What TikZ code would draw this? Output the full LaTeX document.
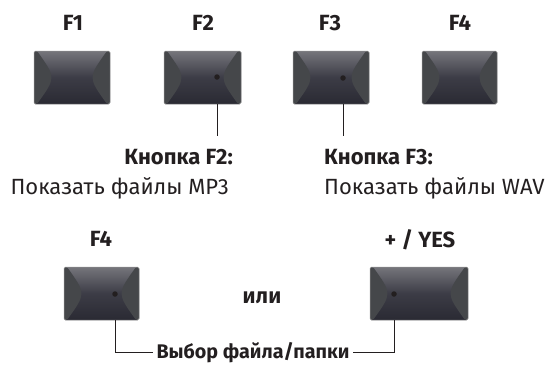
\documentclass[tikz,border=0pt]{standalone}
\usepackage{fontspec}
\setmainfont{Fira Sans}
\usetikzlibrary{calc}
\definecolor{btntop}{HTML}{75757B}
\definecolor{btnmid}{HTML}{3C3C46}
\definecolor{btnbot}{HTML}{2A2A33}
\definecolor{btnside}{HTML}{45474A}
\definecolor{btnedge}{HTML}{8C8C8C}
\definecolor{ink}{HTML}{231F20}
\begin{document}
\begin{tikzpicture}[x=1bp,y=-1bp,
  btn/.style={rectangle, rounded corners=1.5bp, inner sep=0pt, minimum height=53bp,
    top color=btntop, bottom color=btnbot, middle color=btnmid,
    draw=btnedge, line width=0.5bp,
    path picture={
      \fill[btnside] (path picture bounding box.north west) -- ++(3,0)
        .. controls ($(path picture bounding box.west)+(22,0)$) ..
        ($(path picture bounding box.south west)+(3,0)$) -- (path picture bounding box.south west) -- cycle;
      \fill[btnside] (path picture bounding box.north east) -- ++(-3,0)
        .. controls ($(path picture bounding box.east)+(-22,0)$) ..
        ($(path picture bounding box.south east)+(-3,0)$) -- (path picture bounding box.south east) -- cycle;
    }},
  dotn/.style={circle, fill=ink, inner sep=0pt, minimum size=5.5bp},
  conn/.style={draw=ink, line width=0.9bp},
  keylbl/.style={font=\fontsize{22bp}{25bp}\selectfont\bfseries, text=ink, inner sep=0pt, anchor=base},
  headlbl/.style={font=\fontsize{22bp}{25bp}\selectfont\bfseries, text=ink, inner sep=0pt},
  desclbl/.style={font=\fontsize{22bp}{25bp}\selectfont, text=ink, inner sep=0pt},
  orlbl/.style={font=\fontsize{22bp}{25bp}\selectfont\bfseries, text=ink, inner sep=0pt, anchor=base},
  sellbl/.style={font=\fontsize{19.7bp}{22bp}\selectfont\bfseries, text=ink, inner sep=3bp, anchor=base},
]
\useasboundingbox (0,0) rectangle (559,367);

% top row keys
\node[keylbl] (t1) at (73,30) {F1};
\node[keylbl] (t2) at (203,30) {F2};
\node[keylbl] (t3) at (330,30) {F3};
\node[keylbl] (t4) at (460,30) {F4};

\node[btn, minimum width=76bp] (b1) at (72,77.5) {};
\node[btn, minimum width=77bp] (b2) at (202.5,77.5) {};
\node[btn, minimum width=76bp] (b3) at (331,77.5) {};
\node[btn, minimum width=75bp] (b4) at (459.5,77.5) {};

\node[dotn] (d2) at (217,77) {};
\node[dotn] (d3) at (343,78) {};

\coordinate (e2) at (217,136);
\coordinate (e3) at (343,136);
\draw[conn] (d2 |- b2.south) -- (e2);
\draw[conn] (d3 |- b3.south) -- (e3);

\node[headlbl, anchor=base east] (h2) at (233,164) {Кнопка F2:};
\node[desclbl, anchor=base east] (s2) at (229,194) {Показать файлы MP3};
\node[headlbl, anchor=base west] (h3) at (324,164) {Кнопка F3:};
\node[desclbl, anchor=base west] (s3) at (324,194) {Показать файлы WAV};

% bottom row
\node[keylbl] (t5) at (101,246) {F4};
\node[keylbl] (t6) at (420,247) {+ / YES};

\node[btn, minimum width=75bp] (b5) at (101.5,293.5) {};
\node[btn, minimum width=98bp] (b6) at (419,293.5) {};

\node[dotn] (d5) at (115,294) {};
\node[dotn] (d6) at (394,294) {};

\node[orlbl] (or) at (262,303) {или};

\coordinate (c5) at (0,352);
\node[sellbl] (sel) at (253,358) {Выбор файла/папки};
\draw[conn] (d5 |- b5.south) |- (sel.west |- c5);
\draw[conn] (d6 |- b6.south) |- (sel.east |- c5);
\end{tikzpicture}
\end{document}
